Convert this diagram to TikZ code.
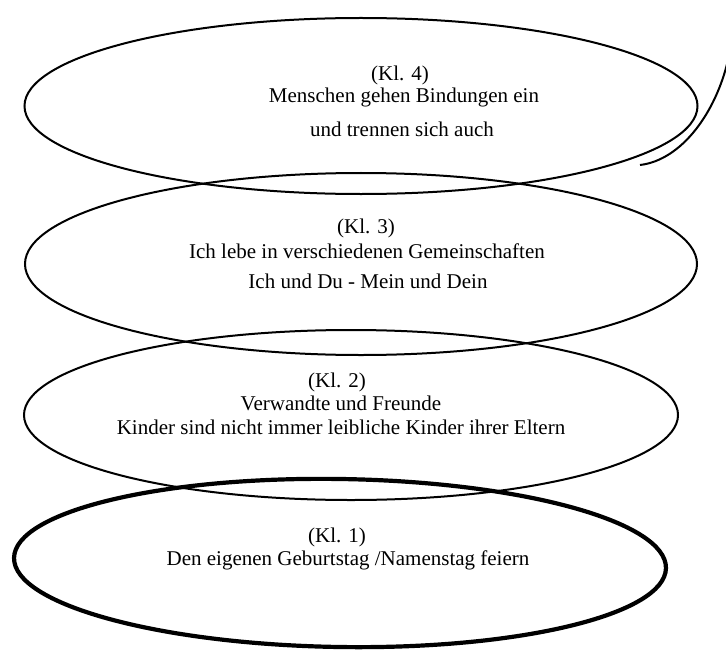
\documentclass[tikz,border=0pt]{standalone}
\usepackage{fontspec}
\setmainfont{Liberation Serif}
\usetikzlibrary{shapes.geometric}
\tikzset{
  ring/.style={ellipse, draw=black, line width=2bp, inner sep=0pt, outer sep=0pt},
  boldring/.style={ring, line width=4.2bp},
  txt/.style={anchor=base, inner sep=0pt, font=\fontsize{21bp}{25bp}\selectfont}
}
\begin{document}
\begin{tikzpicture}[x=1bp, y=-1bp]
\useasboundingbox (0,0) rectangle (726,651);
% ellipses
\node[ring, minimum width=673bp, minimum height=176bp] (e4) at (361,106) {};
\node[ring, minimum width=672bp, minimum height=182bp] (e3) at (361,264) {};
\node[ring, minimum width=654bp, minimum height=170bp] (e2) at (351,415) {};
\node[boldring, minimum width=652bp, minimum height=168bp, rotate=-0.9] (e1) at (340,563) {};
% outer arc at top right
\coordinate (arcA) at (640,165);
\coordinate (arcB) at (728,60);
\draw[line width=2bp] (arcA) .. controls (682,160) and (716,112) .. (arcB);
% texts
\node[txt] (k4a) at (400,81) {(Kl. 4)};
\node[txt] (k4b) at (404,103) {Menschen gehen Bindungen ein};
\node[txt] (k4c) at (402,137) {und trennen sich auch};
\node[txt] (k3a) at (366,233) {(Kl. 3)};
\node[txt] (k3b) at (367,258) {Ich lebe in verschiedenen Gemeinschaften};
\node[txt] (k3c) at (368,288) {Ich und Du - Mein und Dein};
\node[txt] (k2a) at (337,387) {(Kl. 2)};
\node[txt] (k2b) at (341,410) {Verwandte und Freunde};
\node[txt] (k2c) at (341,434) {Kinder sind nicht immer leibliche Kinder ihrer Eltern};
\node[txt] (k1a) at (337,542) {(Kl. 1)};
\node[txt] (k1b) at (348,565) {Den eigenen Geburtstag /Namenstag feiern};
\end{tikzpicture}
\end{document}
